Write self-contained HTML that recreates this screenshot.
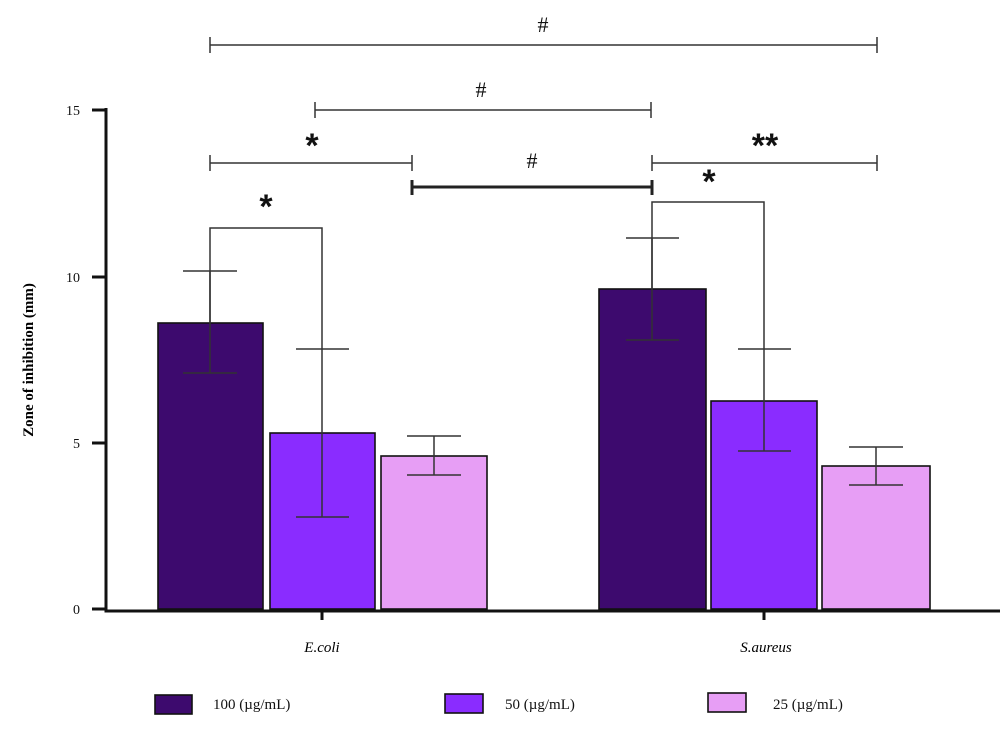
<!DOCTYPE html><html><head><style>body{margin:0;background:#fff}</style></head><body>
<svg width="1000" height="729" xmlns="http://www.w3.org/2000/svg" font-family="Liberation Serif, serif">
<g stroke="#111" stroke-width="1.6">
<rect x="158" y="323" width="105" height="286" fill="#3d0a6e"/>
<rect x="270" y="433" width="105" height="176" fill="#8a2cff"/>
<rect x="381" y="456" width="106" height="153" fill="#e79ef5"/>
<rect x="599" y="289" width="107" height="320" fill="#3d0a6e"/>
<rect x="711" y="401" width="106" height="208" fill="#8a2cff"/>
<rect x="822" y="466" width="108" height="143" fill="#e79ef5"/>
</g>
<g stroke="#333" stroke-width="1.5" fill="none">
<path d="M210 271V373M183 271H237M183 373H237"/>
<path d="M322 349V517M296 349H349M296 517H349"/>
<path d="M434 436V475M407 436H461M407 475H461"/>
<path d="M652 238V340M626 238H679M626 340H679"/>
<path d="M764 349V451M738 349H791M738 451H791"/>
<path d="M876 447V485M849 447H903M849 485H903"/>
<path d="M210 323V228H322V349"/>
<path d="M652 289V202H764V349"/>
<path d="M210 45H877M210 37V53M877 37V53"/>
<path d="M315 110H651M315 102V118M651 102V118"/>
<path d="M210 163H412M210 155V171M412 155V171"/>
<path d="M652 163H877M652 155V171M877 155V171"/>
</g>
<path d="M412 187H652M412 180V195M652 180V195" stroke="#222" stroke-width="3" fill="none"/>
<g fill="#111" font-size="22" text-anchor="middle">
<text x="543" y="32">#</text><text x="481" y="97">#</text><text x="532" y="168">#</text>
</g>
<g fill="#111" font-size="34" font-weight="bold" text-anchor="middle" font-family="Liberation Sans, sans-serif">
<text x="312" y="157">*</text><text x="266" y="218">*</text><text x="709" y="193">*</text><text x="765" y="157">**</text>
</g>
<path d="M106 108V611H1000" stroke="#111" stroke-width="3" fill="none"/>
<g stroke="#111" stroke-width="3"><path d="M92 110H106M92 277H106M92 443H106M92 609H106M322 609V620M764 609V620"/></g>
<g font-size="14" text-anchor="end" fill="#111"><text x="80" y="115">15</text><text x="80" y="282">10</text><text x="80" y="448">5</text><text x="80" y="614">0</text></g>
<text transform="translate(33,360) rotate(-90)" font-size="15" font-weight="bold" text-anchor="middle">Zone of inhibition (mm)</text>
<g font-size="15" font-style="italic" text-anchor="middle"><text x="322" y="652">E.coli</text><text x="766" y="652">S.aureus</text></g>
<g stroke="#111" stroke-width="1.6">
<rect x="155" y="695" width="37" height="19" fill="#3d0a6e"/>
<rect x="445" y="694" width="38" height="19" fill="#8a2cff"/>
<rect x="708" y="693" width="38" height="19" fill="#e79ef5"/>
</g>
<g font-size="15" fill="#111"><text x="213" y="709">100 (µg/mL)</text><text x="505" y="709">50 (µg/mL)</text><text x="773" y="709">25 (µg/mL)</text></g>
</svg></body></html>
